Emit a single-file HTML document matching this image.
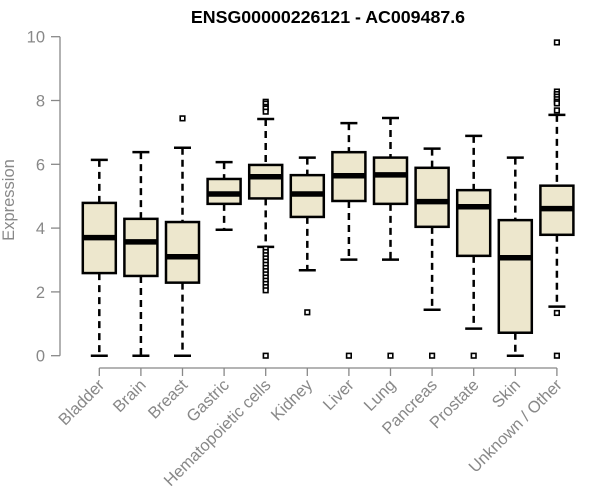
<!DOCTYPE html>
<html><head><meta charset="utf-8"><style>
body{margin:0;background:#fff;}
svg{display:block;font-family:"Liberation Sans",Arial,sans-serif;}
</style></head><body>
<svg id="chart" width="600" height="500"></svg>
<script>
const categories=["Bladder","Brain","Breast","Gastric","Hematopoietic cells","Kidney","Liver","Lung","Pancreas","Prostate","Skin","Unknown / Other"];
const lowWhisker=[0,0,0,3.95,3.41,2.68,3.01,3.01,1.44,0.85,0,1.54];
const q1=[2.59,2.50,2.29,4.76,4.93,4.35,4.85,4.76,4.04,3.13,0.72,3.79];
const medians=[3.70,3.57,3.10,5.07,5.61,5.07,5.64,5.67,4.83,4.67,3.07,4.61];
const q3=[4.79,4.29,4.19,5.54,5.98,5.66,6.38,6.21,5.89,5.19,4.25,5.33];
const highWhisker=[6.14,6.38,6.52,6.07,7.42,6.21,7.29,7.45,6.49,6.89,6.21,7.55];
const outliers=[[],[],[7.44],[],[7.96,7.9,7.8,7.75,7.65,0,3.35,3.25,3.15,3.05,2.95,2.85,2.75,2.65,2.55,2.45,2.35,2.25,2.15,2.05],[1.36],[0],[0],[0],[0],[],[9.82,8.28,8.2,8.12,8.04,7.96,7.91,7.69,1.34,0]];
const yTicks=[0,2,4,6,8,10];
const NS="http://www.w3.org/2000/svg";
const svg=document.getElementById('chart');
const y=v=>355.7-v*31.9;
const x=i=>99.3+i*41.6;
function mk(t,a,p){const e=document.createElementNS(NS,t);for(const k in a)e.setAttribute(k,a[k]);(p||svg).appendChild(e);return e;}
const title=mk('text',{x:328,y:23,'text-anchor':'middle','font-size':17.8,'font-weight':'bold',fill:'#000'});
title.textContent="ENSG00000226121 - AC009487.6";


const yl=mk('text',{transform:'translate(14,200) rotate(-90)','text-anchor':'middle','font-size':16.5,fill:'#888'});
yl.textContent="Expression";


const ya=mk('line',{x1:60,x2:60,y1:y(10),y2:y(0),stroke:'#888','stroke-width':1.3});


yTicks.forEach(t=>{
  mk('line',{x1:51,x2:60,y1:y(t),y2:y(t),stroke:'#888','stroke-width':1.3});
  const tl=mk('text',{x:45,y:y(t)+6,'text-anchor':'end','font-size':16.5,fill:'#888'});
  tl.textContent=t;
  
  
});
const xa=mk('line',{x1:x(0),x2:x(11),y1:368,y2:368,stroke:'#888','stroke-width':1.3});


categories.forEach((c,i)=>{
  const cx=x(i);
  mk('line',{x1:cx,x2:cx,y1:368,y2:376,stroke:'#888','stroke-width':1.3});
  const xl=mk('text',{transform:`translate(${cx+6},${386}) rotate(-45)`,'text-anchor':'end','font-size':16.5,fill:'#888'});
  xl.textContent=c;
  
  
  const g=mk('g',{});
  
  
  const hw=16.5;
  mk('line',{x1:cx,x2:cx,y1:y(highWhisker[i]),y2:y(q3[i]),stroke:'#000','stroke-width':2.5,'stroke-dasharray':'7,5'},g);
  mk('line',{x1:cx,x2:cx,y1:y(q1[i]),y2:y(lowWhisker[i]),stroke:'#000','stroke-width':2.5,'stroke-dasharray':'7,5'},g);
  mk('line',{x1:cx-8.5,x2:cx+8.5,y1:y(highWhisker[i]),y2:y(highWhisker[i]),stroke:'#000','stroke-width':2.5},g);
  mk('line',{x1:cx-8.5,x2:cx+8.5,y1:y(lowWhisker[i]),y2:y(lowWhisker[i]),stroke:'#000','stroke-width':2.5},g);
  mk('rect',{x:cx-hw,y:y(q3[i]),width:hw*2,height:y(q1[i])-y(q3[i]),fill:'#ede7cd',stroke:'#000','stroke-width':2.5},g);
  mk('line',{x1:cx-hw,x2:cx+hw,y1:y(medians[i]),y2:y(medians[i]),stroke:'#000','stroke-width':5.5},g);
  outliers[i].forEach(o=>{
    const p=mk('rect',{x:cx-2.3,y:y(o)-2.3,width:4.6,height:4.6,fill:'#fff',stroke:'#000','stroke-width':1.6},g);
    
    
  });
});
</script>
</body></html>
